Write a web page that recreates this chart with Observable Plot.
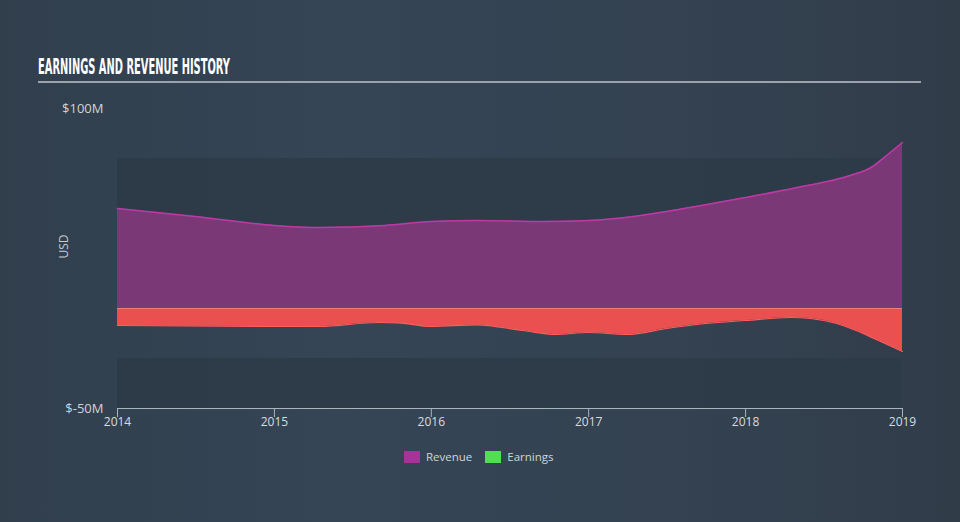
<!DOCTYPE html>
<html>
<head>
<meta charset="utf-8">
<script src="https://cdn.jsdelivr.net/npm/d3@7"></script>
<script src="https://cdn.jsdelivr.net/npm/@observablehq/plot@0.6"></script>
<style>
  html, body { margin: 0; padding: 0; }
  body { width: 960px; height: 522px; overflow: hidden;
    background: linear-gradient(90deg, #313f4d 0%, #354555 35%, #344251 70%, #313c49 100%);
    font-family: "Open Sans", "DejaVu Sans", sans-serif; }
  #wrap { position: relative; width: 960px; height: 522px; }
  #title { position: absolute; left: 38px; top: 55px; font-family: "DejaVu Sans Condensed", "Liberation Sans Narrow", sans-serif;
    font-weight: bold; font-size: 21px; line-height: 24px; color: #ffffff; transform-origin: left center; white-space: nowrap; }
  #rule { position: absolute; left: 38px; top: 81px; width: 883px; height: 2px; background: #9aa3ad; }
  #legend { position: absolute; top: 449px; left: 404px; display: flex; align-items: center; font-size: 11.5px; color: #d0d4d8; }
  .sw { width: 16px; height: 12px; display: inline-block; margin-right: 6px; }
  .item { display: flex; align-items: center; margin-right: 13px; }
  #chart { position: absolute; left: 0; top: 0; }
</style>
</head>
<body>
<div id="wrap">
  <div id="chart"></div>
  <div id="title">EARNINGS AND REVENUE HISTORY</div>
  <div id="rule"></div>
  <div id="legend">
    <div class="item"><span class="sw" style="background:#a7339a"></span>Revenue</div>
    <div class="item"><span class="sw" style="background:#4fe04f"></span>Earnings</div>
  </div>
</div>
<script>
const revenueDates = ["2014-01-01","2014-07-01","2015-01-01","2015-04-15","2015-09-15","2016-01-01","2016-04-15","2016-09-15","2017-01-01","2017-04-15","2017-07-01","2017-09-20","2018-01-01","2018-05-01","2018-09-01","2018-10-20","2018-11-25","2019-01-01"];
const revenueValues = [50,46,41.5,40.5,41.5,43.5,44,43.5,44,46,48.5,51.5,55.5,60.5,66.5,70.5,76.5,83];

const earningsDates = ["2014-01-01","2015-01-01","2015-04-15","2015-09-01","2015-10-15","2016-01-01","2016-04-15","2016-08-01","2016-10-15","2017-01-01","2017-04-01","2017-07-01","2017-10-01","2018-01-01","2018-04-15","2018-06-01","2018-08-01","2018-09-15","2018-11-01","2019-01-01"];
const earningsValues = [-8.5,-9,-9,-7,-7.2,-9,-8.2,-11,-13,-12,-13,-10,-7.5,-6,-4.5,-5,-7.5,-11,-15.5,-21.5];

const yTicks = [100, -50];
const yTickLabels = ["$100M", "$-50M"];
const xTickYears = [2014, 2015, 2016, 2017, 2018, 2019];
const bands = [[75, 25], [-25, -50]];

const revenue = revenueDates.map((d, i) => ({date: new Date(d), value: revenueValues[i]}));
const earnings = earningsDates.map((d, i) => ({date: new Date(d), value: earningsValues[i]}));
const xTicks = xTickYears.map(y => new Date(`${y}-01-01`));
const bandData = bands.map(([a, b]) => ({y1: a, y2: b}));

const chart = Plot.plot({
  width: 960,
  height: 522,
  marginLeft: 117,
  marginRight: 58,
  marginTop: 108,
  marginBottom: 114,
  style: {background: "transparent", color: "#d0d4d8", fontFamily: "'Open Sans', 'DejaVu Sans', sans-serif"},
  x: {type: "utc", domain: [new Date("2014-01-01"), new Date("2019-01-01")]},
  y: {domain: [-50, 100]},
  marks: [
    Plot.rectY(bandData, {y1: "y1", y2: "y2", x1: new Date("2014-01-01"), x2: new Date("2019-01-01"), fill: "#2c3a47", fillOpacity: 0.75}),
    Plot.areaY(revenue, {x: "date", y: "value", fill: "#7b3876", curve: "monotone-x"}),
    Plot.lineY(revenue, {x: "date", y: "value", stroke: "#bd3aa6", strokeWidth: 1.5, curve: "monotone-x"}),
    Plot.areaY(earnings, {x: "date", y: "value", fill: "#eb5050", curve: "monotone-x"}),
    Plot.lineY(earnings, {x: "date", y: "value", stroke: "#ff5c5c", strokeWidth: 1.2, curve: "monotone-x"}),
    Plot.ruleY([0], {x1: new Date("2014-01-01"), x2: new Date("2019-01-01"), stroke: "#f47a7a", strokeWidth: 1}),
    Plot.axisX({ticks: xTicks, tickFormat: d3.utcFormat("%Y"), tickSize: 9, tickPadding: 0, stroke: "#aab4be", fontSize: 12, color: "#d8dce0"}),
    Plot.ruleY([-50], {stroke: "#aab4be", strokeWidth: 1}),
    Plot.axisY({ticks: yTicks, tickFormat: (d) => yTickLabels[yTicks.indexOf(d)], tickSize: 0, tickPadding: 14, fontSize: 13, label: null, color: "#d0d4d8"}),
    Plot.text(["USD"], {text: (d) => d, frameAnchor: "left", dx: -53, rotate: -90, fontSize: 12, fill: "#c5cad0"})
  ]
});
document.getElementById("chart").appendChild(chart);

const t = document.getElementById("title");
const w = t.getBoundingClientRect().width;
t.style.transform = `scaleX(${192 / w})`;
</script>
</body>
</html>
